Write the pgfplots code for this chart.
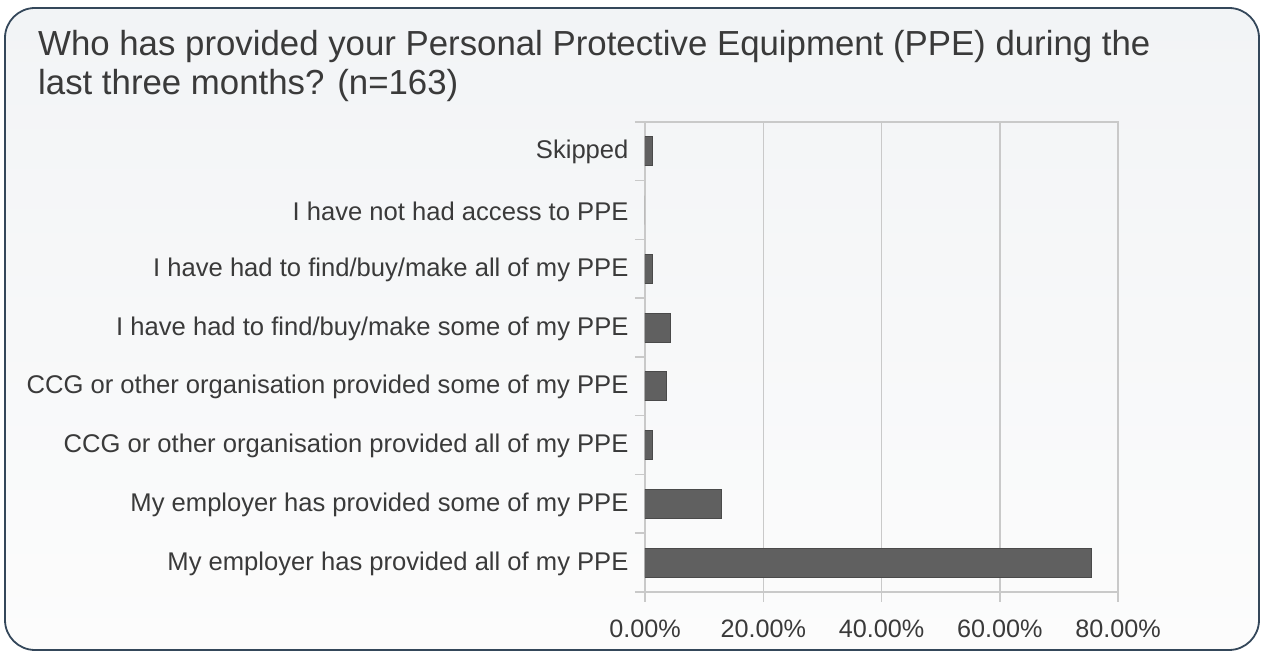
\documentclass[border=0pt]{standalone}
\usepackage{fontspec}
\setmainfont{Liberation Sans}
\usepackage{pgfplots}
\pgfplotsset{compat=1.18}
\definecolor{barfill}{HTML}{606060}
\definecolor{barline}{HTML}{4A4A4A}
\definecolor{frame}{HTML}{34475A}
\definecolor{bgtop}{HTML}{F2F4F6}
\definecolor{bgbot}{HTML}{FCFCFC}
\definecolor{gridc}{HTML}{C9C9C9}
\definecolor{txt}{HTML}{3A3A3A}
\begin{document}
\begin{tikzpicture}[x=1pt,y=1pt]
\path (0,0) rectangle (1264,655);
\draw[line width=1.8pt, draw=frame, rounded corners=30pt, top color=bgtop, bottom color=bgbot] (5,5) rectangle (1259,647);
\node[anchor=north west, align=left, font=\fontsize{34.8}{39}\selectfont, text=txt, inner sep=0pt] at (38,625) {Who has provided your Personal Protective Equipment (PPE) during the\\last three months? (n=163)};
\begin{axis}[
  at={(645pt,63pt)}, anchor=south west,
  scale only axis, width=473pt, height=470pt,
  xbar, bar width=29pt,
  xmin=0, xmax=80, ymin=-0.5, ymax=7.5,
  xtick={0,20,40,60,80},
  xticklabels={0.00\%,20.00\%,40.00\%,60.00\%,80.00\%},
  ytick={-0.5,0.5,...,7.5},
  yticklabels={My employer has provided all of my PPE,My employer has provided some of my PPE,CCG or other organisation provided all of my PPE,CCG or other organisation provided some of my PPE,I have had to find/buy/make some of my PPE,I have had to find/buy/make all of my PPE,I have not had access to PPE,Skipped,{}},
  yticklabel style={yshift=28.5pt, xshift=-3pt, font=\fontsize{25.6}{30}\selectfont, text=txt},
  xticklabel style={yshift=-14pt, font=\fontsize{25.2}{30}\selectfont, text=txt},
  tick align=outside, tick pos=left, major tick length=10pt,
  tick style={draw=gridc, line width=1.5pt},
  axis line style={draw=gridc, line width=1.5pt},
  xmajorgrids, grid style={draw=gridc, line width=1.5pt},
  axis background/.style={fill=none},
]
\addplot[fill=barfill, draw=barline, line width=1pt] coordinates {(75.46,0) (12.88,1) (1.23,2) (3.68,3) (4.29,4) (1.23,5) (0,6) (1.23,7)};
\end{axis}
\end{tikzpicture}
\end{document}
